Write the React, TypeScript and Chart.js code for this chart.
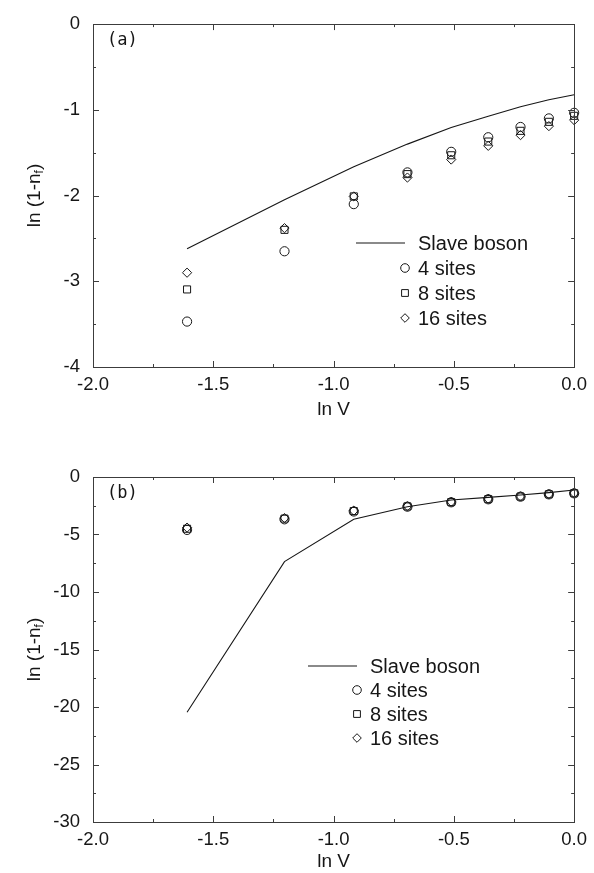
import React, { useEffect, useRef } from "react";
import { Chart, registerables } from "chart.js";

Chart.register(...registerables);

// ln V for V = 0.2 ... 1.0
const lnV = [-1.609, -1.204, -0.916, -0.693, -0.511, -0.357, -0.223, -0.105, 0.0];

// Panel (a)
const slaveA = [-2.62, -2.05, -1.665, -1.40, -1.205, -1.075, -0.965, -0.883, -0.825];
const sites4A = [-3.47, -2.65, -2.10, -1.73, -1.49, -1.32, -1.20, -1.10, -1.035];
const sites8A = [-3.095, -2.40, -2.01, -1.75, -1.53, -1.37, -1.245, -1.14, -1.07];
const sites16A = [-2.90, -2.38, -2.01, -1.79, -1.58, -1.42, -1.295, -1.19, -1.12];

// Panel (b)
const slaveB = [-20.45, -7.36, -3.68, -2.58, -2.0, -1.77, -1.57, -1.36, -1.13];
const sites4B = [-4.6, -3.68, -3.0, -2.58, -2.2, -1.94, -1.71, -1.51, -1.42];
const sites8B = [-4.5, -3.62, -2.96, -2.56, -2.18, -1.92, -1.7, -1.5, -1.41];
const sites16B = [-4.4, -3.57, -2.93, -2.54, -2.16, -1.9, -1.69, -1.49, -1.4];

const seriesLabels = ["Slave boson", "4 sites", "8 sites", "16 sites"];
const xTickRange = { min: -2, max: 0, major: 0.5, minor: 0.25 };
const yTickRangeA = { min: -4, max: 0, major: 1, minor: 0.5 };
const yTickRangeB = { min: -30, max: 0, major: 5, minor: 2.5 };

const FONT = '"Liberation Sans", Arial, Helvetica, sans-serif';
const INK = "#161616";

function pts(ys: number[]) {
  return lnV.map((x, i) => ({ x, y: ys[i] }));
}

function drawMarker(ctx: CanvasRenderingContext2D, style: string, x: number, y: number, r: number) {
  ctx.beginPath();
  if (style === "circle") {
    ctx.arc(x, y, r, 0, Math.PI * 2);
  } else if (style === "rect") {
    const s = r * Math.SQRT1_2;
    ctx.rect(x - s, y - s, 2 * s, 2 * s);
  } else {
    ctx.moveTo(x - r, y);
    ctx.lineTo(x, y - r);
    ctx.lineTo(x + r, y);
    ctx.lineTo(x, y + r);
    ctx.closePath();
  }
  ctx.stroke();
}

type PanelCfg = {
  height: number;
  padTop: number;
  xAxisH: number;
  yRange: { min: number; max: number; major: number; minor: number };
  slave: number[];
  s4: number[];
  s8: number[];
  s16: number[];
  tag: string;
  tagY: number;
  xTitleY: number;
  legendRight: number;
  legendY: number;
  legendStep: number;
};

const markerStyles = ["circle", "rect", "rectRot"];
const markerRadii = [4.6, 5, 4.6];

function buildConfig(c: PanelCfg): any {
  const framePlugin = {
    id: "frame",
    afterDraw(chart: any) {
      const { ctx, chartArea: a } = chart;
      const xs = chart.scales.x;
      const ys = chart.scales.y;
      ctx.save();
      ctx.strokeStyle = "#3c3c3c";
      ctx.lineWidth = 1;
      ctx.strokeRect(Math.round(a.left) + 0.5, Math.round(a.top) + 0.5, Math.round(a.right - a.left), Math.round(a.bottom - a.top));
      ctx.beginPath();
      const xr = xTickRange;
      for (let k = 0; ; k++) {
        const v = xr.min + k * xr.minor;
        if (v > xr.max + 1e-9) break;
        const px = Math.round(xs.getPixelForValue(v)) + 0.5;
        const major = Math.abs(v / xr.major - Math.round(v / xr.major)) < 1e-6;
        const len = major ? 6 : 3;
        ctx.moveTo(px, a.bottom);
        ctx.lineTo(px, a.bottom - len);
        ctx.moveTo(px, a.top);
        ctx.lineTo(px, a.top + len);
      }
      const yr = c.yRange;
      for (let k = 0; ; k++) {
        const v = yr.min + k * yr.minor;
        if (v > yr.max + 1e-9) break;
        const py = Math.round(ys.getPixelForValue(v)) + 0.5;
        const major = Math.abs(v / yr.major - Math.round(v / yr.major)) < 1e-6;
        const len = major ? 6 : 3;
        ctx.moveTo(a.left, py);
        ctx.lineTo(a.left + len, py);
        ctx.moveTo(a.right, py);
        ctx.lineTo(a.right - len, py);
      }
      ctx.stroke();

      // titles
      ctx.fillStyle = INK;
      ctx.textBaseline = "middle";
      ctx.textAlign = "center";
      ctx.font = `19px ${FONT}`;
      ctx.fillText("ln V", (a.left + a.right) / 2, c.xTitleY);

      // y title with subscript
      ctx.save();
      ctx.translate(33, (a.top + a.bottom) / 2);
      ctx.rotate(-Math.PI / 2);
      ctx.textAlign = "left";
      ctx.textBaseline = "alphabetic";
      ctx.font = `19px ${FONT}`;
      const p1 = "ln (1-n";
      const w1 = ctx.measureText(p1).width;
      const w3 = ctx.measureText(")").width;
      ctx.font = `12px ${FONT}`;
      const w2 = ctx.measureText("f").width;
      let sx = -(w1 + w2 + w3) / 2;
      const base = 7;
      ctx.font = `19px ${FONT}`;
      ctx.fillText(p1, sx, base);
      sx += w1;
      ctx.font = `12px ${FONT}`;
      ctx.fillText("f", sx, base + 3);
      sx += w2;
      ctx.font = `19px ${FONT}`;
      ctx.fillText(")", sx, base);
      ctx.restore();

      // panel tag
      ctx.textAlign = "left";
      ctx.textBaseline = "middle";
      ctx.font = `17px "DejaVu Sans Mono", monospace`;
      ctx.fillText(c.tag, 107, c.tagY);

      // legend
      ctx.font = `20px ${FONT}`;
      ctx.strokeStyle = INK;
      ctx.lineWidth = 1.1;
      const L = c.legendRight;
      ctx.beginPath();
      ctx.moveTo(L - 49, c.legendY);
      ctx.lineTo(L, c.legendY);
      ctx.stroke();
      ctx.fillText(chart.data.datasets[0].label, L + 13, c.legendY + 1);
      ctx.lineWidth = 1;
      for (let i = 0; i < 3; i++) {
        const yy = c.legendY + (i + 1) * c.legendStep;
        drawMarker(ctx, markerStyles[i], L, yy, i === 1 ? 4.8 : 4.3);
        ctx.fillText(chart.data.datasets[i + 1].label, L + 13, yy + 1);
      }
      ctx.restore();
    },
  };

  const markerSet = (label: string, ys: number[], i: number) => ({
    label,
    data: pts(ys),
    pointStyle: markerStyles[i],
    pointRadius: markerRadii[i],
    pointHoverRadius: markerRadii[i],
    pointBorderWidth: 1,
    borderColor: INK,
    backgroundColor: "rgba(0,0,0,0)",
    pointBackgroundColor: "rgba(0,0,0,0)",
    pointBorderColor: INK,
    showLine: false,
    clip: false,
  });

  return {
    type: "scatter",
    data: {
      datasets: [
        {
          label: seriesLabels[0],
          data: pts(c.slave),
          showLine: true,
          pointRadius: 0,
          pointHoverRadius: 0,
          borderColor: INK,
          borderWidth: 1.1,
          tension: 0,
          fill: false,
          clip: false,
        },
        markerSet(seriesLabels[1], c.s4, 0),
        markerSet(seriesLabels[2], c.s8, 1),
        markerSet(seriesLabels[3], c.s16, 2),
      ],
    },
    options: {
      responsive: false,
      animation: false,
      devicePixelRatio: 1,
      events: [],
      layout: { padding: { top: c.padTop, right: 18, left: 0, bottom: 0 } },
      plugins: { legend: { display: false }, tooltip: { enabled: false }, title: { display: false } },
      scales: {
        x: {
          type: "linear",
          min: xTickRange.min,
          max: xTickRange.max,
          grid: { display: false, drawTicks: false },
          border: { display: false },
          ticks: {
            stepSize: xTickRange.major,
            maxRotation: 0,
            autoSkip: false,
            padding: 7,
            color: INK,
            font: { family: FONT, size: 18.5 },
            callback: (v: any) => Number(v).toFixed(1),
          },
          afterFit: (s: any) => {
            s.height = c.xAxisH;
          },
        },
        y: {
          type: "linear",
          min: c.yRange.min,
          max: c.yRange.max,
          grid: { display: false, drawTicks: false },
          border: { display: false },
          ticks: {
            stepSize: c.yRange.major,
            padding: 13,
            color: INK,
            font: { family: FONT, size: 18.5 },
            callback: (v: any) => String(Math.round(Number(v))),
          },
          afterFit: (s: any) => {
            s.width = 93;
          },
        },
      },
    },
    plugins: [framePlugin],
  };
}

function Panel({ top, cfg }: { top: number; cfg: PanelCfg }) {
  const ref = useRef<HTMLCanvasElement>(null);
  useEffect(() => {
    if (!ref.current) return;
    const chart = new Chart(ref.current, buildConfig(cfg));
    return () => chart.destroy();
  }, []);
  return (
    <canvas
      ref={ref}
      width={594}
      height={cfg.height}
      style={{ position: "absolute", left: 0, top, width: 594, height: cfg.height }}
    />
  );
}

const cfgA: PanelCfg = {
  height: 436,
  padTop: 18,
  xAxisH: 69,
  yRange: yTickRangeA,
  slave: slaveA,
  s4: sites4A,
  s8: sites8A,
  s16: sites16A,
  tag: "(a)",
  tagY: 41,
  xTitleY: 410,
  legendRight: 405,
  legendY: 243,
  legendStep: 25,
};

const cfgB: PanelCfg = {
  height: 437,
  padTop: 41,
  xAxisH: 51,
  yRange: yTickRangeB,
  slave: slaveB,
  s4: sites4B,
  s8: sites8B,
  s16: sites16B,
  tag: "(b)",
  tagY: 58,
  xTitleY: 426,
  legendRight: 357,
  legendY: 230,
  legendStep: 24,
};

export default function App() {
  return (
    <div style={{ position: "absolute", left: 0, top: 0, width: 594, height: 873, background: "#fff" }}>
      <Panel top={0} cfg={cfgA} />
      <Panel top={436} cfg={cfgB} />
    </div>
  );
}
